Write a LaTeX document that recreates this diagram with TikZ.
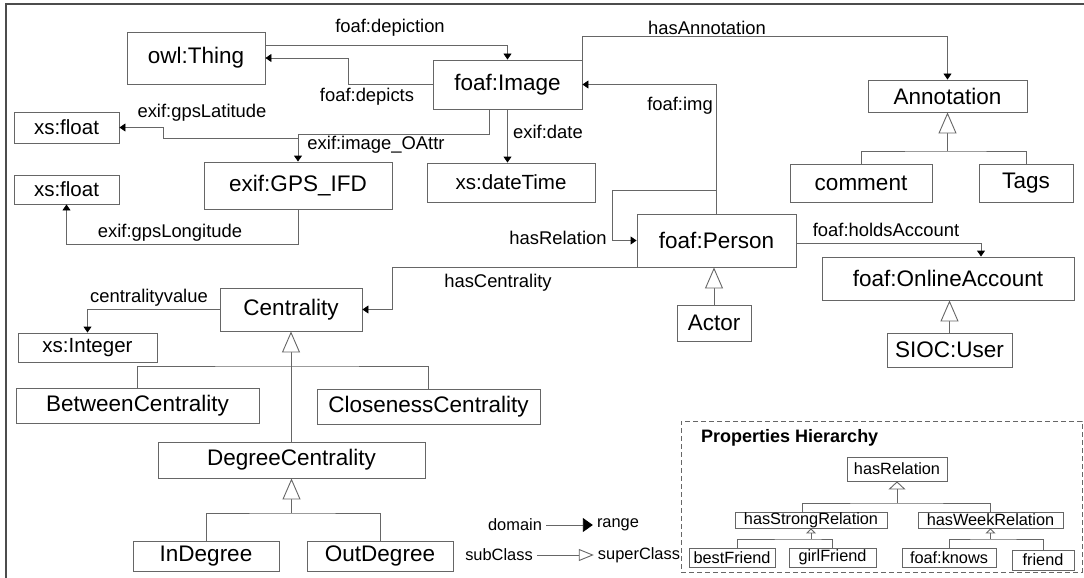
\documentclass[tikz,border=0pt]{standalone}
\usepackage{fontspec}
\setmainfont{Liberation Sans}
\usetikzlibrary{arrows.meta}
\definecolor{linegray}{gray}{0.4}

\begin{document}
\begin{tikzpicture}[x=1pt, y=-1pt,
     wh/.style 2 args={minimum width=#1pt, minimum height=#2pt},
     cls/.style={draw=linegray, line width=0.9pt, inner sep=0pt, font=\fontsize{22.5}{24}\selectfont},
     xsd/.style={cls, font=\fontsize{20.5}{22}\selectfont},
     prop/.style={draw=linegray, line width=0.8pt, inner sep=0pt, font=\fontsize{16.3}{18}\selectfont},
     lbl/.style={inner sep=0pt, font=\fontsize{18.4}{20}\selectfont},
     leg/.style={inner sep=4pt, font=\fontsize{16.4}{18}\selectfont},
     con/.style={draw=linegray, line width=0.9pt},
     dom/.style={con, -{Triangle[length=6pt,width=8pt,color=black]}},
     gen/.style={con, -{Triangle[open,length=21pt,width=18pt,fill=white]}},
     sgen/.style={con, -{Triangle[open,length=8pt,width=17pt,fill=white]}},
     tgen/.style={con, -{Triangle[open,length=5pt,width=10pt,fill=white]}},
     legdom/.style={con, -{Triangle[length=10pt,width=14pt,color=black]}},
     leggen/.style={con, -{Triangle[open,length=15pt,width=12pt,fill=white]}}]

   \useasboundingbox (0,0) rectangle (1084,578);
   \draw[line width=1.6pt, draw=black!70] (6,578) -- (6,4) -- (1084,4);

   % classes
   \node[cls, wh={138}{52}] (thing) at (196,58) {owl:Thing};
   \node[cls, wh={149}{49}] (img) at (507.5,84.5) {foaf:Image};
   \node[xsd, wh={105}{31}] (fa) at (66.5,127.5) {xs:float};
   \node[xsd, wh={105}{29}] (fb) at (66.5,189.5) {xs:float};
   \node[cls, wh={188}{47}] (gps) at (298,185.5) {exif:GPS\_IFD};
   \node[xsd, wh={168}{39}] (dt) at (511,182.5) {xs:dateTime};
   \node[cls, wh={159}{32}] (ann) at (947.5,96) {Annotation};
   \node[cls, wh={142}{38}] (com) at (861,183) {comment};
   \node[cls, wh={94}{38}] (tags) at (1026,183) {Tags};
   \node[cls, wh={159}{53}] (person) at (716.5,240.5) {foaf:Person};
   \node[cls, wh={74}{36}] (actor) at (714,323) {Actor};
   \node[cls, wh={252}{43}] (acc) at (948,278.5) {foaf:OnlineAccount};
   \node[cls, wh={125}{34}] (user) at (949.5,350) {SIOC:User};
   \node[cls, wh={142}{43}] (cent) at (291,309.5) {Centrality};
   \node[xsd, wh={139}{29}] (int) at (87.5,347.5) {xs:Integer};
   \node[cls, wh={243}{35}] (betw) at (137.5,405.5) {BetweenCentrality};
   \node[cls, wh={223}{35}] (clos) at (428.5,406.5) {ClosenessCentrality};
   \node[cls, wh={267}{36}] (deg) at (291.5,460) {DegreeCentrality};
   \node[cls, wh={146}{30}] (ind) at (206,556) {InDegree};
   \node[cls, wh={146}{30}] (outd) at (380,556) {OutDegree};

   % properties
   \draw[dom] ([yshift=13pt]thing.east) -| (img.north);
   \draw[dom] (img.west) -- ++(-84,0) |- (thing.east);
   \draw[dom] (img.north east) -- ++(0,-23) -| (ann.north);
   \draw[dom] (person.north) |- (img.east);
   \draw[dom] ([yshift=23pt]person.north) -- ++(-104.5,0) |- (person.west);
   \draw[dom] (person.south west) -- ++(-244,0) |- (cent.east);
   \draw[dom] ([yshift=-2.5pt]person.east) -| ([xshift=33pt]acc.north);
   \draw[dom] ([xshift=-18.5pt]img.south) -- ++(0,25) -| (gps.north);
   \draw[dom] ([yshift=23pt]gps.north) -- ++(-135,0) |- (fa.east);
   \draw[dom] (img.south) -- (img.south |- dt.north);
   \draw[dom] (gps.south) -- ++(0,35) -| (fb.south);
   \draw[dom] (cent.west) -| (int.north);

   \node[lbl] (l-depiction) at (390,28) {foaf:depiction};
   \node[lbl] (l-depicts) at (367,97) {foaf:depicts};
   \node[lbl] (l-annot) at (707,28) {hasAnnotation};
   \node[lbl] (l-img) at (680,106) {foaf:img};
   \node[lbl] (l-rel) at (558,238) {hasRelation};
   \node[lbl] (l-cent) at (498,283) {hasCentrality};
   \node[lbl] (l-holds) at (886,230) {foaf:holdsAccount};
   \node[lbl] (l-lat) at (202,113) {exif:gpsLatitude};
   \node[lbl] (l-oattr) at (376,145) {exif:image\_OAttr};
   \node[lbl] (l-date) at (548,132) {exif:date};
   \node[lbl] (l-long) at (170,233) {exif:gpsLongitude};
   \node[lbl] (l-cval) at (149,298) {centralityvalue};

   % subclasses
   \coordinate (annbus) at (947.5,151);
   \draw[gen] (annbus) -- (ann.south);
   \draw[con] (com.north) |- (annbus) -| (tags.north);
   \draw[gen] (actor.north) -- (actor.north |- person.south);
   \draw[gen] (user.north) -- (user.north |- acc.south);
   \coordinate (centbus) at (291,366);
   \draw[gen] (deg.north -| cent.south) -- (cent.south);
   \draw[con] (betw.north) |- (centbus) -| (clos.north);
   \coordinate (degbus) at (291.5,513);
   \draw[gen] (degbus) -- (deg.south);
   \draw[con] (ind.north) |- (degbus) -| (outd.north);

   % legend
   \node[leg] (l-domain) at (515,525) {domain};
   \node[leg] (l-range) at (618,525) {range};
   \draw[legdom] (l-domain) -- (l-range);
   \node[leg] (l-sub) at (499,555) {subClass};
   \node[leg] (l-super) at (639,555) {superClass};
   \draw[leggen] (l-sub) -- (l-super);

   % properties hierarchy
   \node[draw=linegray, line width=0.8pt, dash pattern=on 5pt off 3pt, wh={401}{151}] (propbox) at (881.5,496.5) {};
   \node[anchor=west, inner sep=0pt, font=\bfseries\fontsize{18}{20}\selectfont] (ptitle) at (701,438) {Properties Hierarchy};
   \node[prop, wh={100}{24}] (hasrel) at (897,469) {hasRelation};
   \node[prop, wh={152}{16}] (strong) at (811,520) {hasStrongRelation};
   \node[prop, wh={145}{16}] (week) at (990.5,520) {hasWeekRelation};
   \node[prop, wh={86}{19}] (best) at (732,557.5) {bestFriend};
   \node[prop, wh={87}{19}] (girl) at (832.5,557.5) {girlFriend};
   \node[prop, wh={94}{19}] (knows) at (949,557.5) {foaf:knows};
   \node[prop, wh={62}{20}] (friend) at (1043,560) {friend};

   \coordinate (relbus) at (897,503);
   \draw[sgen] (relbus) -- (hasrel.south);
   \draw[con] ([xshift=-9pt]strong.north) |- (relbus) -| (week.north);
   \coordinate (strbus) at (811,539);
   \draw[tgen] (strbus) -- (strong.south);
   \draw[con] ([xshift=5pt]best.north) |- (strbus) -| (girl.north);
   \coordinate (wkbus) at (990.5,539);
   \draw[tgen] (wkbus) -- (week.south);
   \draw[con] (knows.north) |- (wkbus) -| (friend.north);
\end{tikzpicture}
\end{document}
